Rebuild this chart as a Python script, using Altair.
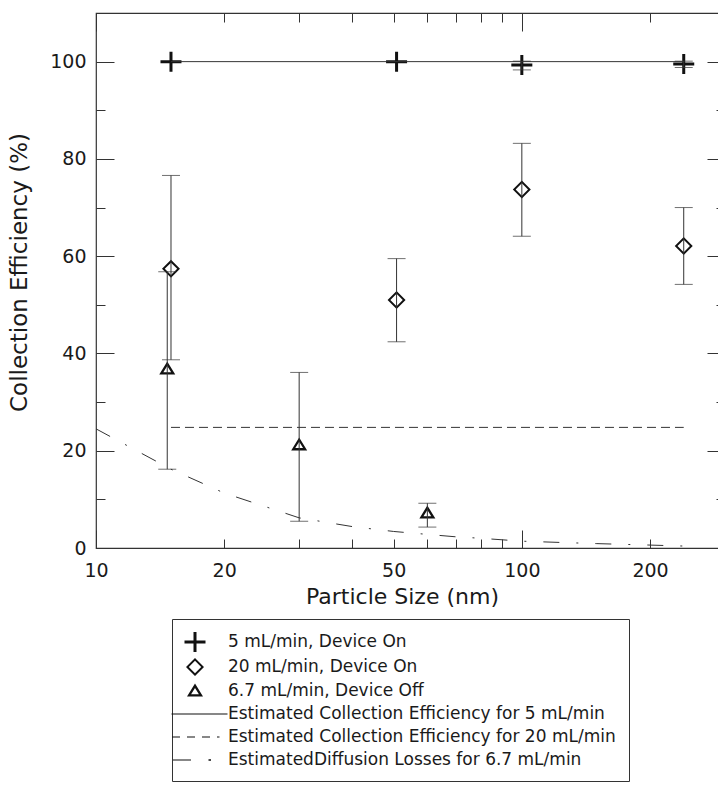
import altair as alt
import pandas as pd

# ---------------- data ----------------
series_names = [
    "5 mL/min, Device On",
    "20 mL/min, Device On",
    "6.7 mL/min, Device Off",
    "Estimated Collection Efficiency for 5 mL/min",
    "Estimated Collection Efficiency for 20 mL/min",
    "EstimatedDiffusion Losses for 6.7 mL/min",
]

cross_x = [15.0, 50.8, 100.0, 240.0]
cross_y = [100.0, 100.0, 99.3, 99.5]
cross_lo = [100.0, 100.0, 98.3, 98.8]
cross_hi = [100.0, 100.0, 100.1, 100.1]

diam_x = [15.0, 50.8, 100.0, 240.0]
diam_y = [57.4, 51.0, 73.7, 62.1]
diam_lo = [38.7, 42.4, 64.1, 54.2]
diam_hi = [76.6, 59.5, 83.2, 70.0]

tri_x = [14.7, 30.0, 60.0]
tri_y = [36.8, 21.2, 7.2]
tri_lo = [16.2, 5.5, 4.3]
tri_hi = [56.8, 36.1, 9.2]

est5_x = [15.0, 240.0]
est5_y = [100.0, 100.0]
est20_x = [15.0, 240.0]
est20_y = [24.8, 24.8]
diff_x = [10, 15, 20, 25, 30, 40, 50, 60, 70, 80, 100, 150, 200, 240]
diff_y = [24.5, 16.2, 11.3, 8.5, 6.2, 4.4, 3.4, 2.8, 2.3, 2.0, 1.4, 0.9, 0.6, 0.4]

x_labels = [10, 20, 50, 100, 200]
x_major = [10, 100]
x_minor = [20, 30, 40, 50, 60, 70, 80, 90, 200, 300]
y_labels = [0, 20, 40, 60, 80, 100]
y_major = [0, 20, 40, 60, 80, 100]
y_minor = [10, 30, 50, 70, 90]

# ---------------- tables ----------------
pts = pd.concat([
    pd.DataFrame({"x": cross_x, "y": cross_y, "series": series_names[0]}),
    pd.DataFrame({"x": diam_x, "y": diam_y, "series": series_names[1]}),
    pd.DataFrame({"x": tri_x, "y": tri_y, "series": series_names[2]}),
], ignore_index=True)

err = pd.concat([
    pd.DataFrame({"x": cross_x, "lo": cross_lo, "hi": cross_hi}),
    pd.DataFrame({"x": diam_x, "lo": diam_lo, "hi": diam_hi}),
    pd.DataFrame({"x": tri_x, "lo": tri_lo, "hi": tri_hi}),
], ignore_index=True)
err = err[err["hi"] > err["lo"]]

lines = pd.concat([
    pd.DataFrame({"x": est5_x, "y": est5_y, "series": series_names[3]}),
    pd.DataFrame({"x": est20_x, "y": est20_y, "series": series_names[4]}),
    pd.DataFrame({"x": diff_x, "y": diff_y, "series": series_names[5]}),
], ignore_index=True)

# ---------------- scales / styles ----------------
FONT = "DejaVu Sans"
INK = "#1a1a1a"
LINE = "#333333"

xs = alt.Scale(type="log", domain=[10, 300], nice=False)
ys = alt.Scale(domain=[0, 110], nice=False, zero=False)

# symbol glyphs as filled outlines (unit = half of sqrt(size) = 10 px)
plus_path = "M-1.05,-0.15H-0.15V-1H0.15V-0.15H1.05V0.15H0.15V1H-0.15V0.15H-1.05Z"
diamond_path = "M-0.9,0L0,-0.9L0.9,0L0,0.9ZM-0.62,0L0,0.62L0.62,0L0,-0.62Z"
tri_path = "M0,-0.75L-0.8,0.55L0.8,0.55ZM0,-0.31L0.39,0.32L-0.39,0.32Z"


def bar(a, b, h=0.05):
    return f"M{a},{-h}H{b}V{h}H{a}Z"


solid_path = bar(-2.35, 3.25)
dashed_path = bar(-2.3, -1.5) + bar(-0.8, 0) + bar(0.7, 1.5) + bar(2.2, 2.45)
dashdot_path = bar(-2.2, -0.4) + bar(1.35, 1.6, 0.07)

shape_scale = alt.Scale(domain=series_names,
                        range=[plus_path, diamond_path, tri_path,
                               solid_path, dashed_path, dashdot_path])
dash_scale = alt.Scale(domain=series_names,
                       range=[[1, 0], [1, 0], [1, 0], [1, 0], [9, 5], [16, 17, 2, 17]])

legend_kw = dict(
    title=None, orient="none", legendX=76, legendY=606, direction="vertical",
    padding=13, strokeColor=LINE, symbolSize=400, symbolStrokeWidth=0,
    labelFont=FONT, labelFontSize=17, labelColor=INK, labelOffset=23,
    rowPadding=5, labelLimit=600,
)

# ---------------- layers ----------------
line_layer = alt.Chart(lines).mark_line(color=LINE, strokeWidth=1).encode(
    x=alt.X("x:Q", scale=xs, axis=None),
    y=alt.Y("y:Q", scale=ys, axis=None),
    strokeDash=alt.StrokeDash("series:N", scale=dash_scale, legend=None),
)

err_rule = alt.Chart(err).mark_rule(color=LINE, strokeWidth=1).encode(
    x=alt.X("x:Q", scale=xs, axis=None),
    y=alt.Y("lo:Q", scale=ys, axis=None),
    y2="hi:Q",
)
cap_lo = alt.Chart(err).mark_tick(orient="horizontal", size=18, thickness=1, color=LINE).encode(
    x=alt.X("x:Q", scale=xs, axis=None),
    y=alt.Y("lo:Q", scale=ys, axis=None),
)
cap_hi = alt.Chart(err).mark_tick(orient="horizontal", size=18, thickness=1, color=LINE).encode(
    x=alt.X("x:Q", scale=xs, axis=None),
    y=alt.Y("hi:Q", scale=ys, axis=None),
)

point_layer = alt.Chart(pts).mark_point(
    filled=True, size=400, color="#111111", opacity=1
).encode(
    x=alt.X("x:Q", scale=xs, axis=None),
    y=alt.Y("y:Q", scale=ys, axis=None),
    shape=alt.Shape("series:N", scale=shape_scale, legend=alt.Legend(**legend_kw)),
)

dummy = pd.DataFrame({"x": [10.0], "y": [0.0]})


def axis_layer(ax_x, ax_y):
    return alt.Chart(dummy).mark_point(opacity=0).encode(
        x=alt.X("x:Q", scale=xs, axis=ax_x),
        y=alt.Y("y:Q", scale=ys, axis=ax_y),
    )


tick_common = dict(labels=False, domain=False, title=None, grid=False, tickColor=LINE, tickWidth=1)

ax_layers = [
    axis_layer(
        alt.Axis(orient="bottom", values=x_labels, format="d", ticks=False, domain=False,
                 labelPadding=13, labelFlush=False, labelOverlap=False, labelBound=False,
                 title="Particle Size (nm)", titlePadding=6, titleX=306),
        alt.Axis(orient="left", values=y_labels, format="d", ticks=False, domain=False,
                 labelPadding=10, labelFlush=False, labelOverlap=False,
                 title="Collection Efficiency (%)", titleFontSize=23, titlePadding=18, titleY=259),
    ),
    axis_layer(
        alt.Axis(orient="bottom", values=x_major, offset=-18, tickSize=18, **tick_common),
        alt.Axis(orient="left", values=y_major, offset=-18, tickSize=18, **tick_common),
    ),
    axis_layer(
        alt.Axis(orient="bottom", values=x_minor, offset=-9, tickSize=9, **tick_common),
        alt.Axis(orient="left", values=y_minor, offset=-9, tickSize=9, **tick_common),
    ),
    axis_layer(
        alt.Axis(orient="top", values=x_major, offset=-18, tickSize=18, **tick_common),
        alt.Axis(orient="right", values=y_major, offset=-18, tickSize=18, **tick_common),
    ),
    axis_layer(
        alt.Axis(orient="top", values=x_minor, offset=-9, tickSize=9, **tick_common),
        alt.Axis(orient="right", values=y_minor, offset=-9, tickSize=9, **tick_common),
    ),
]

chart = alt.layer(
    point_layer, *ax_layers, line_layer, err_rule, cap_lo, cap_hi
).resolve_axis(
    x="independent", y="independent"
).properties(
    width=629, height=535,
    autosize=alt.AutoSizeParams(type="none"),
    padding={"left": 96, "top": 13, "right": -7, "bottom": 237},
    background="white",
).configure_view(
    stroke=LINE, strokeWidth=1.2
).configure_axis(
    grid=False, labelColor=INK, titleColor=INK, labelFont=FONT, titleFont=FONT,
    labelFontSize=19, titleFontSize=22, titleFontWeight="normal",
    domainColor=LINE, tickColor=LINE,
)

chart.save("out.html", embed_options={"renderer": "svg", "actions": False})
